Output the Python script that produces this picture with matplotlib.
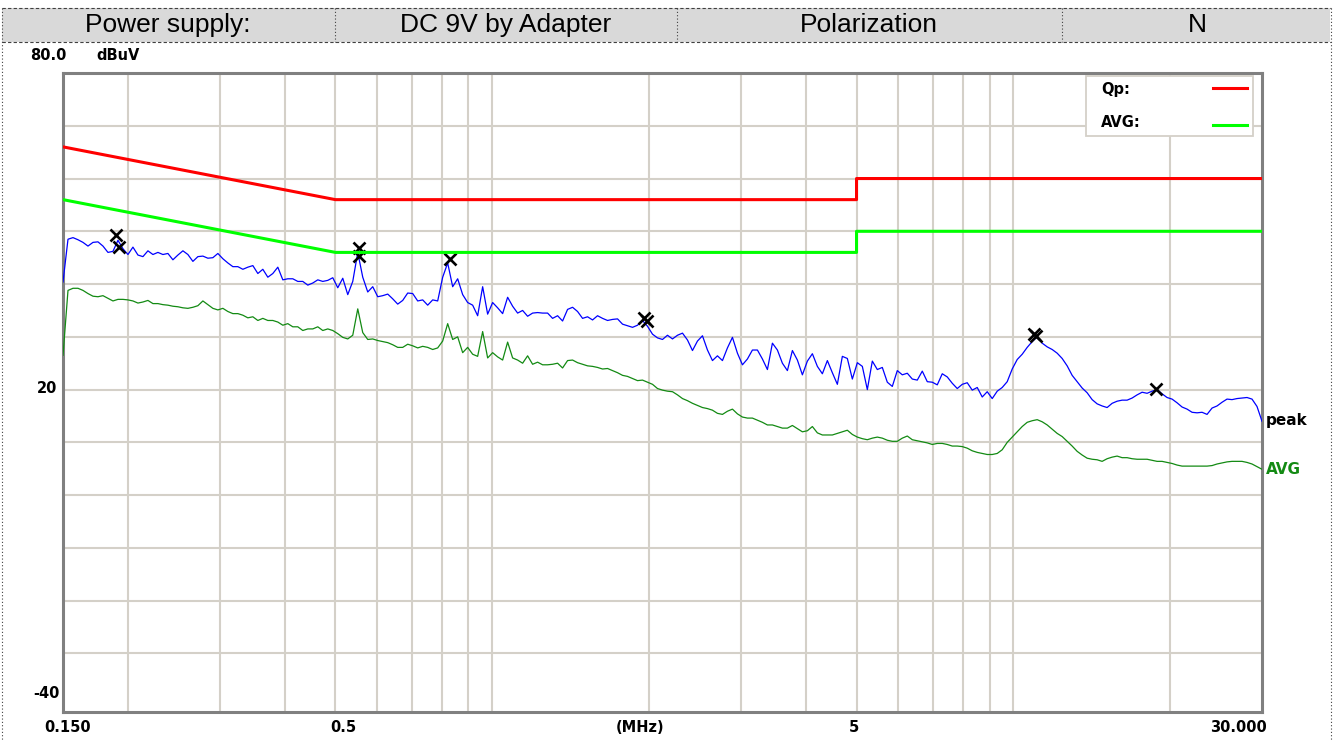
import numpy as np
import matplotlib
matplotlib.use('Agg')
import matplotlib.pyplot as plt
from matplotlib.lines import Line2D
from matplotlib.patches import Rectangle

W, H = 1335, 740

header_cells = ['Power supply:', 'DC 9V by Adapter', 'Polarization', 'N']

# receiver sweep, 0.150 - 30 MHz, log spaced
f_start, f_stop = 0.15, 30.0

peak = [40.4, 48.5, 48.8, 48.4, 47.9, 47.2, 47.9, 48.0, 47.2, 46.0,
        46.2, 48.3, 46.7, 45.6, 47.0, 45.5, 45.2, 46.3, 45.6, 46.0,
        45.6, 45.8, 44.6, 45.5, 46.3, 45.6, 44.3, 45.2, 45.3, 44.9,
        45.0, 45.8, 44.8, 44.0, 43.3, 43.3, 42.8, 43.2, 43.5, 42.0,
        42.8, 41.3, 42.0, 43.2, 40.8, 41.0, 41.0, 40.5, 40.5, 39.8,
        40.2, 40.8, 40.5, 40.7, 41.2, 39.3, 41.1, 38.0, 40.5, 46.0,
        41.3, 38.5, 39.5, 37.6, 37.8, 38.1, 37.2, 36.2, 36.9, 38.3,
        38.2, 36.8, 37.0, 36.0, 37.0, 36.8, 41.3, 44.0, 39.5, 41.0,
        38.0, 36.5, 36.0, 34.0, 39.5, 34.3, 36.5, 35.5, 34.4, 37.5,
        35.8, 34.5, 35.0, 33.9, 34.5, 34.6, 34.5, 34.5, 33.5, 34.0,
        33.0, 35.2, 35.6, 34.8, 33.5, 33.8, 33.2, 34.0, 33.5, 33.1,
        33.3, 33.4, 32.4, 32.1, 31.8, 32.2, 33.1, 32.0, 30.5, 29.8,
        29.5, 30.3, 29.6, 30.3, 30.7, 29.4, 27.4, 29.2, 30.2, 27.5,
        25.5, 26.4, 25.5, 27.9, 29.9, 26.9, 24.7, 25.8, 27.5, 27.5,
        25.8, 23.8, 28.8, 27.5, 25.0, 23.6, 27.4, 25.6, 22.8, 25.4,
        26.8, 24.4, 23.0, 25.5, 23.2, 21.0, 26.3, 25.9, 22.0, 25.1,
        24.4, 20.0, 25.4, 23.8, 24.2, 21.4, 20.6, 23.6, 22.8, 23.1,
        22.0, 21.8, 23.5, 21.5, 21.4, 20.9, 23.0, 22.4, 21.2, 20.2,
        21.0, 21.3, 19.9, 20.4, 18.6, 19.6, 18.3, 19.7, 20.4, 21.5,
        23.9, 25.7, 26.7, 28.0, 29.1, 30.0, 28.8, 28.1, 27.6, 26.9,
        25.9, 24.5, 22.7, 21.5, 20.3, 19.4, 18.1, 17.3, 16.9, 16.6,
        17.4, 17.8, 18.0, 18.0, 18.4, 19.0, 19.5, 19.3, 19.7, 20.0,
        19.2, 18.5, 18.2, 17.5, 16.7, 16.3, 15.7, 15.6, 15.7, 15.3,
        16.5, 16.9, 17.6, 18.2, 18.1, 18.3, 18.4, 18.5, 18.2, 16.8, 14.0]

avg = [26.5, 38.8, 39.2, 39.2, 38.8, 38.2, 37.7, 37.6, 37.8, 37.3,
       36.8, 37.1, 37.1, 37.0, 36.8, 36.4, 36.6, 36.9, 36.3, 36.3,
       36.1, 36.0, 35.8, 35.7, 35.5, 35.4, 35.6, 35.9, 36.8, 36.1,
       35.4, 35.1, 35.4, 34.8, 34.4, 34.4, 34.1, 33.6, 33.8, 33.1,
       33.5, 33.1, 33.1, 32.8, 32.2, 32.5, 31.9, 31.9, 31.2, 31.5,
       31.5, 31.9, 31.2, 31.5, 31.2, 30.6, 29.9, 29.6, 30.3, 35.3,
       30.8, 29.5, 29.6, 29.3, 29.1, 28.9, 28.5, 28.0, 28.0, 28.6,
       28.3, 27.9, 28.2, 28.0, 27.6, 27.9, 29.2, 32.5, 29.5, 30.0,
       27.0, 28.0, 26.7, 26.3, 31.0, 26.0, 27.0, 26.2, 25.6, 29.0,
       26.0, 25.6, 25.0, 26.4, 24.8, 25.2, 24.7, 24.7, 24.8, 25.0,
       24.1, 25.5, 25.6, 25.1, 24.8, 24.5, 24.4, 24.2, 23.9, 24.0,
       23.6, 23.2, 22.7, 22.5, 22.1, 21.7, 21.8, 21.4, 21.0, 20.2,
       19.9, 19.7, 19.6, 19.0, 18.3, 17.9, 17.4, 17.0, 16.6, 16.4,
       16.1, 15.5, 15.3, 15.9, 16.3, 15.4, 14.8, 14.6, 14.6, 14.2,
       13.8, 13.3, 13.3, 13.0, 12.7, 12.7, 13.2, 12.6, 12.0, 12.2,
       13.0, 11.8, 11.4, 11.4, 11.4, 11.7, 12.0, 12.3, 11.5, 11.0,
       10.7, 10.5, 10.8, 11.0, 10.8, 10.4, 10.2, 10.2, 10.8, 11.2,
       10.5, 10.3, 10.1, 9.9, 9.6, 9.8, 9.8, 9.6, 9.3, 9.3,
       9.2, 8.9, 8.4, 8.1, 7.9, 7.7, 7.7, 7.9, 8.6, 10.0,
       11.0, 12.0, 13.0, 13.8, 14.1, 14.3, 13.9, 13.3, 12.5, 11.7,
       11.1, 10.2, 9.3, 8.3, 7.6, 7.0, 6.8, 6.7, 6.4, 6.9,
       7.2, 7.4, 7.1, 7.1, 6.9, 6.8, 6.8, 6.8, 6.6, 6.4,
       6.4, 6.2, 6.0, 5.7, 5.5, 5.5, 5.5, 5.5, 5.5, 5.5,
       5.6, 5.9, 6.1, 6.3, 6.4, 6.4, 6.4, 6.2, 5.9, 5.4, 4.9]

lim_freq = [0.15, 0.5, 5.0, 5.0, 30.0]
qp_limit = [66, 56, 56, 60, 60]
av_limit = [56, 46, 46, 50, 50]

mark_freq = [0.190, 0.192, 0.554, 0.554, 0.830, 1.955, 1.980, 10.95, 11.05, 18.8]
mark_level = [49.3, 47.0, 46.9, 45.3, 44.7, 33.5, 33.0, 30.6, 30.1, 20.2]

grid_freq = [0.2, 0.3, 0.4, 0.5, 0.6, 0.7, 0.8, 0.9,
             1, 2, 3, 4, 5, 6, 7, 8, 9, 10, 20]
grid_level = [-30, -20, -10, 0, 10, 20, 30, 40, 50, 60, 70]

x_labels = ['0.150', '0.5', '(MHz)', '5', '30.000']
y_labels = ['80.0', '20', '-40']

BOLD = dict(family='DejaVu Sans', fontweight='bold')


def fx(x):
    return x / W


def fy(y):
    return 1 - y / H


fig = plt.figure(figsize=(W / 100, H / 100), dpi=100)

# header strip
fig.add_artist(Rectangle((fx(2), fy(42)), fx(1328), 34 / H, transform=fig.transFigure,
                         facecolor='#d9d9d9', edgecolor='none'))
for yy in (8, 42):
    fig.add_artist(Line2D([fx(2), fx(1331)], [fy(yy), fy(yy)], transform=fig.transFigure,
                          color='#404040', lw=0.8, ls=(0, (3, 2))))
for xx in (335, 677, 1062):
    fig.add_artist(Line2D([fx(xx), fx(xx)], [fy(8), fy(42)], transform=fig.transFigure,
                          color='#404040', lw=0.8, ls=(0, (1, 2))))
fig.add_artist(Line2D([fx(2), fx(2)], [fy(8), fy(740)], transform=fig.transFigure,
                      color='#404040', lw=0.8, ls=(0, (1, 2))))
fig.add_artist(Line2D([fx(1331), fx(1331)], [fy(8), fy(740)], transform=fig.transFigure,
                      color='#404040', lw=0.8, ls=(0, (1, 2))))
for cx, txt in zip((168, 506, 869, 1197), header_cells):
    fig.text(fx(cx), fy(25), txt, ha='center', va='center', fontsize=19,
             family='Liberation Sans', color='black')

ax = fig.add_axes([fx(63), fy(712), 1199 / W, 639 / H])
ax.set_xscale('log')
ax.set_xlim(f_start, f_stop)
ax.set_ylim(-41.1, 80)

ax.set_xticks(grid_freq, minor=False)
ax.set_xticks([], minor=True)
ax.set_yticks(grid_level)
ax.tick_params(which='both', length=0, labelbottom=False, labelleft=False)
ax.grid(True, color='#d4d0c8', lw=1.5)
ax.set_axisbelow(True)
for s in ax.spines.values():
    s.set_color('#808080')
    s.set_linewidth(2.2)

freq = np.geomspace(f_start, f_stop, len(peak))
ax.plot(freq, avg, color='#138a13', lw=0.9, zorder=3)
ax.plot(freq, peak, color='#0000ff', lw=0.9, zorder=4)
ax.plot(mark_freq, mark_level, ls='none', marker='x', color='black',
        markersize=8.5, mew=1.9, zorder=5)
ax.plot(lim_freq, qp_limit, color='#ff0000', lw=2.2, zorder=6)
ax.plot(lim_freq, av_limit, color='#00ff00', lw=2.2, zorder=6)

# legend box
ax.add_patch(Rectangle((0.853, 0.901), 0.1395, 0.094, transform=ax.transAxes,
                       facecolor='white', edgecolor='#d4d0c8', lw=1.3, zorder=7))
ax.text(0.866, 0.974, 'Qp:', transform=ax.transAxes, va='center', fontsize=10.5,
        zorder=8, **BOLD)
ax.text(0.866, 0.923, 'AVG:', transform=ax.transAxes, va='center', fontsize=10.5,
        zorder=8, **BOLD)
ax.plot([0.959, 0.9875], [0.9765, 0.9765], transform=ax.transAxes, color='#ff0000',
        lw=2.2, zorder=8)
ax.plot([0.959, 0.9875], [0.9185, 0.9185], transform=ax.transAxes, color='#00ff00',
        lw=2.2, zorder=8)

# axis labels, placed like the receiver software does
for cx, lab in zip((68, 343, 640, 854, 1238), x_labels):
    fig.text(fx(cx), fy(727), lab, ha='center', va='center', fontsize=10.5, **BOLD)
for (cx, cy), lab in zip(((48, 55), (47, 389), (46, 693)), y_labels):
    fig.text(fx(cx), fy(cy), lab, ha='center', va='center', fontsize=10.5, **BOLD)
fig.text(fx(118), fy(55), 'dBuV', ha='center', va='center', fontsize=10.5, **BOLD)
fig.text(fx(1266), fy(421), 'peak', ha='left', va='center', fontsize=11, **BOLD)
fig.text(fx(1266), fy(469), 'AVG', ha='left', va='center', fontsize=11,
         color='#138a13', **BOLD)

fig.savefig('out.png', dpi=100)
